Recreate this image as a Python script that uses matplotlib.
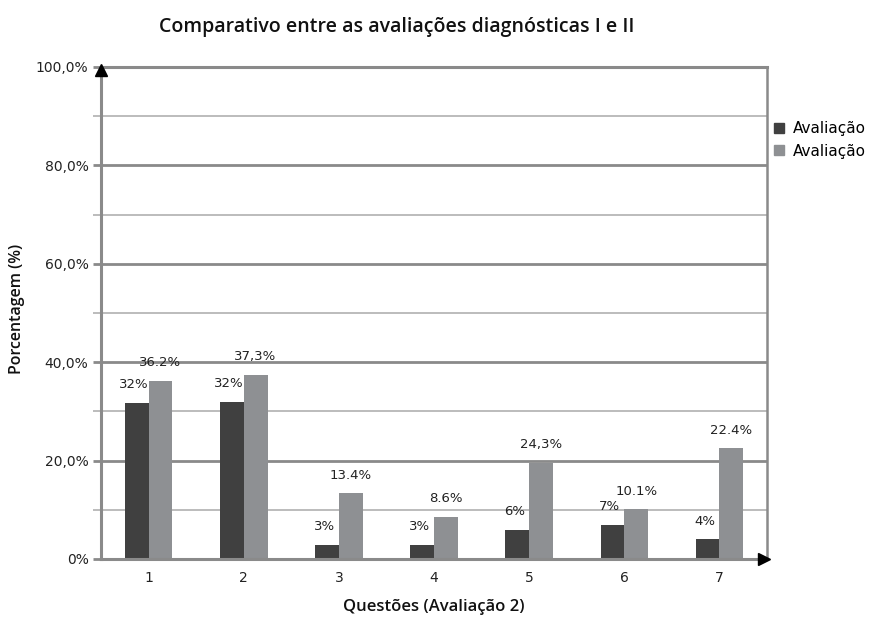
import matplotlib
matplotlib.use("Agg")
import matplotlib.pyplot as plt
from matplotlib.ticker import MultipleLocator, FixedLocator
from matplotlib.patches import Patch
import numpy as np

plt.rcParams['font.family'] = ['DejaVu Sans']
HEAD = ['Open Sans', 'DejaVu Sans']

categories = ['1', '2', '3', '4', '5', '6', '7']
aval1 = [31.7, 31.9, 2.9, 2.9, 5.9, 6.9, 4.0]
aval2 = [36.2, 37.5, 13.4, 8.6, 19.6, 10.1, 22.5]
labels1 = ['32%', '32%', '3%', '3%', '6%', '7%', '4%']
labels2 = ['36.2%', '37,3%', '13.4%', '8.6%', '24,3%', '10.1%', '22.4%']
series_names = ['Avaliação', 'Avaliação']
ytick_vals = [0, 20, 40, 60, 80, 100]
ytick_labels = ['0%', '20,0%', '40,0%', '60,0%', '80,0%', '100,0%']

dark = '#404040'
light = '#8e9093'
grid_major = '#8a8a8a'
grid_minor = '#b0b0b0'
txt = '#222222'

fig = plt.figure(figsize=(8.69, 6.19), dpi=100)
ax = fig.add_axes([101/869, 1-559/619, (767-101)/869, (559-67)/619])

x = np.arange(len(categories))
w = 0.25
b1 = ax.bar(x - w/2, aval1, w, color=dark, zorder=3)
b2 = ax.bar(x + w/2, aval2, w, color=light, zorder=3)

for rect, lab in zip(b1, labels1):
    ax.annotate(lab, (rect.get_x() + rect.get_width()/2, rect.get_height()),
                xytext=(-2, 13), textcoords='offset points', ha='center', va='center',
                fontsize=9.5, color=txt, zorder=4)
for rect, lab in zip(b2, labels2):
    ax.annotate(lab, (rect.get_x() + rect.get_width()/2, rect.get_height()),
                xytext=(0, 13), textcoords='offset points', ha='center', va='center',
                fontsize=9.5, color=txt, zorder=4)

ax.set_xlim(-0.5, len(categories) - 0.5)
ax.set_ylim(0, 100)
ax.set_xticks(x)
ax.set_xticklabels(categories, fontsize=10, color=txt)
ax.tick_params(axis='x', length=0, pad=9)

ax.yaxis.set_major_locator(FixedLocator(ytick_vals))
ax.set_yticklabels(ytick_labels, fontsize=10, color=txt)
ax.yaxis.set_minor_locator(MultipleLocator(10))
ax.tick_params(axis='y', which='major', length=6, width=2, color=grid_major, pad=3)
ax.tick_params(axis='y', which='minor', length=6, width=1.2, color=grid_minor)

ax.grid(axis='y', which='major', color=grid_major, linewidth=2.0, zorder=0)
ax.grid(axis='y', which='minor', color=grid_minor, linewidth=1.2, zorder=0)

for s in ['left', 'bottom', 'right', 'top']:
    ax.spines[s].set_color(grid_major)
    ax.spines[s].set_linewidth(2.2)
ax.spines['right'].set_linewidth(1.8)
ax.spines['left'].set_zorder(5)
ax.spines['bottom'].set_zorder(5)

# axis arrows
ax.plot([0], [0.993], marker='^', color='black', markersize=8, transform=ax.transAxes,
        clip_on=False, zorder=6)
ax.plot([0.995], [0], marker='>', color='black', markersize=8, transform=ax.transAxes,
        clip_on=False, zorder=6)

fig.text(397/869, 1-27/619, 'Comparativo entre as avaliações diagnósticas I e II',
         ha='center', va='center', fontsize=14, fontweight='semibold', color='#111111',
         family=HEAD)
fig.text(434/869, 1-607/619, 'Questões (Avaliação 2)', ha='center', va='center',
         fontsize=12, fontweight='semibold', color='#111111', family=HEAD)
fig.text(17/869, 1-309/619, 'Porcentagem (%)', ha='center', va='center', rotation=90,
         fontsize=11.5, fontweight='semibold', color='#111111', family=HEAD)

handles = [Patch(color=dark), Patch(color=light)]
fig.legend(handles, series_names, loc='upper left', bbox_to_anchor=(774/869, 1-121/619),
           frameon=False, fontsize=11, handlelength=0.65, handleheight=0.65,
           handletextpad=0.6, labelspacing=0.5, borderaxespad=0, borderpad=0)

fig.savefig('out.png', dpi=100)
